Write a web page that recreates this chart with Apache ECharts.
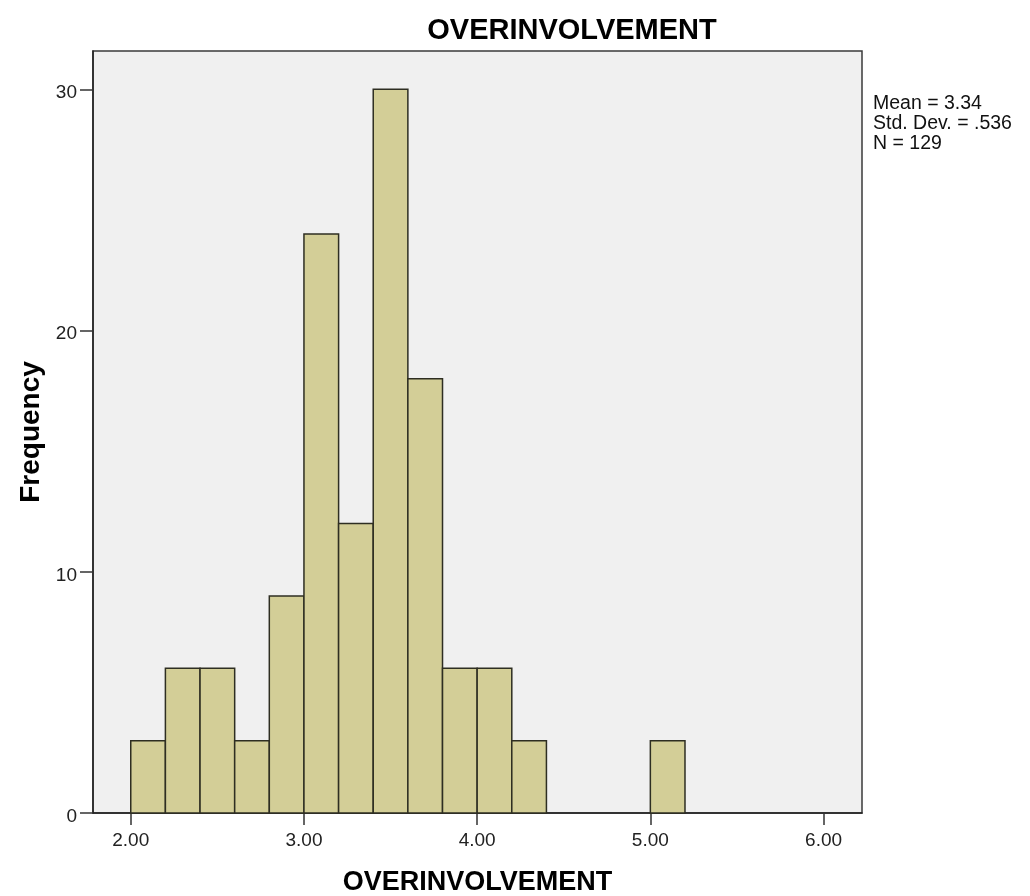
<!DOCTYPE html>
<html>
<head>
<meta charset="utf-8">
<script src="https://cdn.jsdelivr.net/npm/echarts@6/dist/echarts.min.js"></script>
<style>
html,body{margin:0;padding:0;background:#fff;}
#chart{width:1030px;height:896px;}
</style>
</head>
<body>
<div id="chart"></div>
<script>
const binStarts = [2.0, 2.2, 2.4, 2.6, 2.8, 3.0, 3.2, 3.4, 3.6, 3.8, 4.0, 4.2, 5.0];
const counts    = [3, 6, 6, 3, 9, 24, 12, 30, 18, 6, 6, 3, 3];
const binWidth = 0.2;
const xTicks = [2, 3, 4, 5, 6];
const yTicks = [0, 10, 20, 30];
const statsLines = ['Mean = 3.34', 'Std. Dev. = .536', 'N = 129'];
const titleText = 'OVERINVOLVEMENT';
const xName = 'OVERINVOLVEMENT';
const yName = 'Frequency';

const FONT = '"Liberation Sans", Arial, sans-serif';
const chart = echarts.init(document.getElementById('chart'));
const data = binStarts.map((s, i) => [s, s + binWidth, counts[i]]);

chart.setOption({
  animation: false,
  backgroundColor: '#ffffff',
  title: {
    text: titleText,
    left: 567, top: 11, textAlign: 'center',
    textStyle: { fontFamily: FONT, fontSize: 29, fontWeight: 'bold', color: '#000' }
  },
  graphic: [{
    type: 'text', left: 873, top: 94,
    style: { text: statsLines.join('\n'), font: '19.5px ' + FONT, fill: '#111', lineHeight: 20 }
  }],
  grid: {
    left: 93, right: 168, top: 51, bottom: 83,
    outerBoundsMode: 'none', containLabel: false,
    show: true, backgroundColor: '#f0f0f0', borderColor: '#3a3a3a', borderWidth: 1.5
  },
  xAxis: {
    type: 'value', min: 1.782, max: 6.222,
    name: xName, nameLocation: 'middle', nameGap: 56,
    nameTextStyle: { fontFamily: FONT, fontSize: 27, fontWeight: 'bold', color: '#000' },
    splitLine: { show: false },
    axisLine: { show: true, lineStyle: { color: '#222', width: 1.5 } },
    axisTick: { show: true, customValues: xTicks, length: 12, lineStyle: { color: '#333', width: 1.5 } },
    axisLabel: { customValues: xTicks, formatter: v => v.toFixed(2), fontFamily: FONT, fontSize: 19, color: '#222', margin: 18 }
  },
  yAxis: {
    type: 'value', min: 0, max: 31.59, interval: 10,
    name: yName, nameLocation: 'middle', nameGap: 48, nameRotate: 90,
    nameTextStyle: { fontFamily: FONT, fontSize: 28, fontWeight: 'bold', color: '#000' },
    splitLine: { show: false },
    axisLine: { show: true, lineStyle: { color: '#222', width: 1.5 } },
    axisTick: { show: true, customValues: yTicks, length: 13, lineStyle: { color: '#333', width: 1.5 } },
    axisLabel: {
      customValues: yTicks,
      fontFamily: FONT, fontSize: 19, color: '#222', margin: 16,
      verticalAlign: 'top', lineHeight: 7
    }
  },
  series: [{
    type: 'custom',
    data: data,
    encode: { x: [0, 1], y: 2 },
    renderItem: function (params, api) {
      const p0 = api.coord([api.value(0), api.value(2)]);
      const p1 = api.coord([api.value(1), 0]);
      return {
        type: 'rect',
        shape: { x: p0[0], y: p0[1], width: p1[0] - p0[0], height: p1[1] - p0[1] },
        style: { fill: '#d3ce97', stroke: '#2e2e22', lineWidth: 1.5 }
      };
    }
  }]
});
</script>
</body>
</html>
